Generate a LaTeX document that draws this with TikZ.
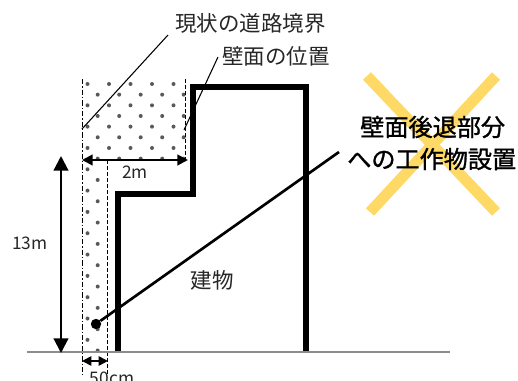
\documentclass[tikz,border=0pt]{standalone}
\usepackage{fontspec}
\setmainfont{Noto Sans CJK JP}
\newfontfamily\boldcjk[FakeBold=1.2]{Noto Sans CJK JP}
\usetikzlibrary{arrows.meta}
\definecolor{crossy}{HTML}{FFD966}
\definecolor{ground}{HTML}{8C8C8C}
\tikzset{
  lbl/.style={font=\fontsize{16.1pt}{18pt}\selectfont,text=black!85,inner sep=0pt},
  dim/.style={font=\fontsize{13pt}{14pt}\selectfont,text=black!85,inner sep=0pt},
  big/.style={font=\boldcjk\fontsize{18.1pt}{20pt}\selectfont,text=black,inner sep=0pt},
  wall/.style={line width=4.5pt,line join=miter,line cap=butt},
  leader/.style={line width=0.8pt},
  dimarrow/.style={line width=1.6pt,{Triangle[length=8pt,width=8pt]}-{Triangle[length=8pt,width=8pt]}},
  tallarrow/.style={line width=1.6pt,{Triangle[length=11pt,width=11pt]}-{Triangle[length=11pt,width=11pt]}},
  seedot/.style={circle,fill=black!65,inner sep=0pt,minimum size=3pt},
}
\begin{document}
\begin{tikzpicture}[x=0.75pt,y=-0.75pt]
\useasboundingbox (0,0) rectangle (518,381);
% cross
\draw[crossy,line width=8.2pt] (367,76) -- (496,212);
\draw[crossy,line width=8.2pt] (496,76) -- (370,212);
% dots
\foreach \r in {0,...,25}{
  \pgfmathsetmacro{\yy}{84+10.66*\r}
  \pgfmathtruncatemacro{\odd}{mod(\r,2)}
  \ifnum\r<8
    \foreach \c in {0,...,4}{
      \pgfmathsetmacro{\xx}{(\odd==0?87.5:97.7)+21.5*\c}
      \node[seedot] at (\xx,\yy) {};
    }
  \else
    \pgfmathsetmacro{\xx}{(\odd==0?87.5:97.7)}
    \node[seedot] at (\xx,\yy) {};
  \fi
}
% boundary lines
\coordinate (bt) at (82.5,79); \coordinate (bb) at (82.5,375);
\coordinate (wt) at (185,79); \coordinate (wb) at (185,160);
\coordinate (it) at (107.5,160); \coordinate (ib) at (107.5,375);
\draw[line width=0.6pt,dash pattern=on 4pt off 1.5pt on 1pt off 1.5pt] (bt) -- (bb);
\draw[line width=0.6pt,dash pattern=on 3pt off 1.5pt] (wt) -- (wb);
\draw[line width=0.6pt,dash pattern=on 3pt off 1.5pt] (it) -- (ib);
% ground
\coordinate (gl) at (27,352); \coordinate (gr) at (450,352);
\draw[ground,line width=1.7pt] (gl) -- (gr);
% building
\draw[wall] (118,351) -- (118,194) -- (193,194) -- (193,87) -- (306,87) -- (306,351);
% dimensions
\coordinate (a1) at (82,160); \coordinate (a2) at (188,160);
\draw[dimarrow] (a1) -- (a2);
\coordinate (h1) at (61,156); \coordinate (h2) at (61,353);
\draw[tallarrow] (h1) -- (h2);
\coordinate (c1) at (82,361); \coordinate (c2) at (108,361);
\draw[line width=1.3pt,{Triangle[length=7pt,width=7pt]}-{Triangle[length=7pt,width=7pt]}] (c1) -- (c2);
% leaders
\node[lbl,anchor=west] (t1) at (175,23) {現状の道路境界};
\node[lbl,anchor=west] (t2) at (222,56) {壁面の位置};
\coordinate (l1) at (168,35); \coordinate (l1e) at (82,129);
\coordinate (l2) at (218,57); \coordinate (l2e) at (184,130);
\draw[leader] (l1) -- (l1e);
\draw[leader] (l2) -- (l2e);
% item line
\node[circle,fill=black,inner sep=0pt,minimum size=7.8pt] (pt) at (96,324) {};
\coordinate (pe) at (339,152);
\draw[line width=2pt] (pt) -- (pe);
% labels
\node[big,anchor=west] (b1) at (360,127) {壁面後退部分};
\node[big,anchor=west] (b2) at (347,159) {への工作物設置};
\node[lbl,anchor=center] (bld) at (212,280) {建物};
\node[dim,anchor=center] (d2) at (135,172) {2m};
\node[dim,anchor=center] (d13) at (30,243) {13m};
\node[dim,anchor=center] (d50) at (112,378) {50cm};
\end{tikzpicture}
\end{document}
